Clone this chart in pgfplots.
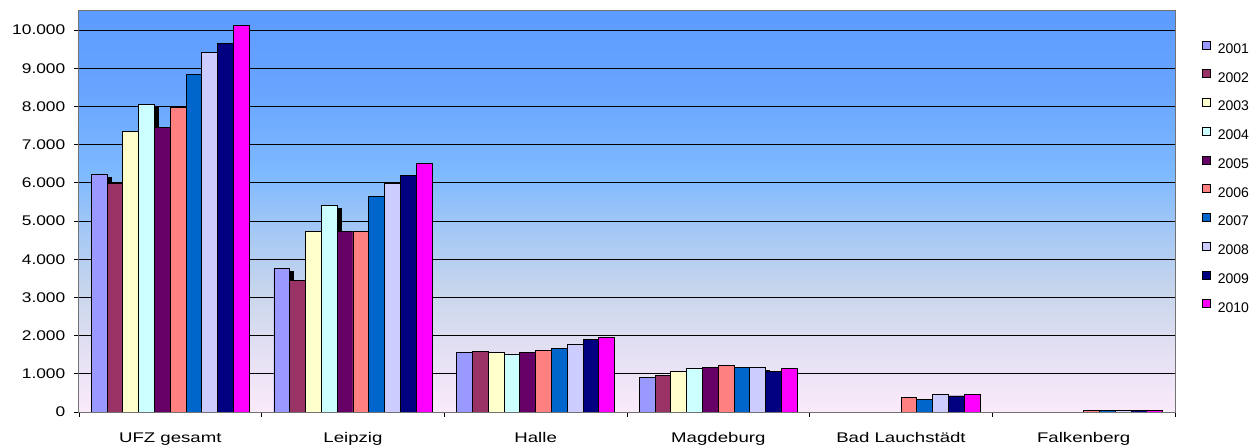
\documentclass[border=0pt]{standalone}
\usepackage{fontspec}
\setmainfont{Liberation Sans}
\newfontfamily\tickfont{Liberation Sans}[FakeStretch=1.24]
\newfontfamily\catfont{Liberation Sans}[FakeStretch=1.33]
\usepackage{pgfplots}
\usepackage{pgfplotstable}
\pgfplotsset{compat=1.18}
\usetikzlibrary{shadows}

\definecolor{s01}{HTML}{9999FF}
\definecolor{s02}{HTML}{993366}
\definecolor{s03}{HTML}{FFFFCC}
\definecolor{s04}{HTML}{CCFFFF}
\definecolor{s05}{HTML}{660066}
\definecolor{s06}{HTML}{FF8080}
\definecolor{s07}{HTML}{0066CC}
\definecolor{s08}{HTML}{CCCCFF}
\definecolor{s09}{HTML}{000080}
\definecolor{s10}{HTML}{FF00FF}

\definecolor{bg0}{RGB}{250,234,250}
\definecolor{bg1}{RGB}{228,224,243}
\definecolor{bg2}{RGB}{200,214,236}
\definecolor{bg3}{RGB}{165,200,245}
\definecolor{bg4}{RGB}{125,185,255}
\definecolor{bg5}{RGB}{105,165,255}
\definecolor{bg6}{RGB}{92,155,255}
\pgfdeclareverticalshading{bgshade}{100bp}{%
 color(0bp)=(bg0); color(25bp)=(bg0); color(32.5bp)=(bg1); color(40bp)=(bg2);
 color(47.5bp)=(bg3); color(55bp)=(bg4); color(65bp)=(bg5); color(75bp)=(bg6); color(100bp)=(bg6)}

\pgfplotstableread{
x y2001 y2002 y2003 y2004 y2005 y2006 y2007 y2008 y2009 y2010
0 6210 5990 7340 8050 7460 7980 8850 9420 9660 10110
1 3770 3440 4720 5410 4730 4730 5640 5980 6200 6500
2 1550 1590 1550 1510 1560 1620 1660 1780 1890 1960
3 900 950 1050 1130 1175 1220 1175 1165 1060 1130
4 0 0 0 0 0 370 340 460 420 460
5 0 0 0 0 0 40 40 40 40 40
}\data

\tikzset{shad/.style={preaction={drop shadow={shadow xshift=4bp, shadow yshift=-3bp, fill=black, opacity=1}}}}

\begin{document}
\begin{tikzpicture}
\useasboundingbox (-79bp,-34bp) rectangle (1173bp,412bp);
\begin{axis}[
  at={(0,0)}, anchor=south west,
  scale only axis, width=1096bp, height=401bp,
  xmin=-0.5, xmax=5.5, ymin=0, ymax=10500,
  ybar=0pt, bar width=15.8bp,
  axis background/.style={shading=bgshade},
  axis line style={black!55, line width=1bp},
  xtick={0,...,5},
  xticklabels={UFZ gesamt, Leipzig, Halle, Magdeburg, Bad Lauchstädt, Falkenberg},
  minor xtick={-0.5,0.5,...,5.5},
  ytick={0,1000,...,10000},
  tick pos=left, tick align=outside,
  major tick length=5bp, minor tick length=5bp,
  x tick style={draw=none},
  minor x tick style={draw=black, line width=0.8bp},
  y tick style={draw=black, line width=0.8bp},
  ymajorgrids, grid style={black, line width=0.8bp},
  scaled y ticks=false,
  /pgf/number format/.cd, 1000 sep={.}, assume math mode=true,
  /pgfplots/.cd,
  yticklabel style={font=\tickfont\fontsize{14bp}{16bp}\selectfont, inner sep=0pt, anchor=east, xshift=-8.5bp},
  xticklabel style={font=\catfont\fontsize{14bp}{16bp}\selectfont, inner sep=0pt, anchor=base, yshift=-25bp},
  legend style={at={(1.0246,0.926)}, anchor=north west, draw=none, fill=none,
    inner sep=0pt, outer sep=0pt, row sep=16.1bp,
    font=\fontsize{14bp}{15bp}\selectfont,
    nodes={inner sep=0pt, text height=9.5bp, text depth=0bp},
    /tikz/every odd column/.append style={column sep=7bp}},
  legend cell align=left,
  legend image code/.code={\draw[#1, draw=black, line width=0.8bp] (0bp,-0.5bp) rectangle (8bp,7.5bp);},
  every axis plot/.append style={draw=black, line width=0.9bp},
]
\addlegendimage{fill=s01}
\addlegendimage{fill=s02}
\addlegendimage{fill=s03}
\addlegendimage{fill=s04}
\addlegendimage{fill=s05}
\addlegendimage{fill=s06}
\addlegendimage{fill=s07}
\addlegendimage{fill=s08}
\addlegendimage{fill=s09}
\addlegendimage{fill=s10}
\addplot[forget plot, fill=s01, shad, bar shift=-71.1bp] table[x=x, y=y2001] {\data};
\addplot[forget plot, fill=s02, shad, bar shift=-55.3bp] table[x=x, y=y2002] {\data};
\addplot[forget plot, fill=s03, shad, bar shift=-39.5bp] table[x=x, y=y2003] {\data};
\addplot[forget plot, fill=s04, shad, bar shift=-23.7bp] table[x=x, y=y2004] {\data};
\addplot[forget plot, fill=s05, shad, bar shift=-7.9bp] table[x=x, y=y2005] {\data};
\addplot[forget plot, fill=s06, shad, bar shift=7.9bp] table[x=x, y=y2006] {\data};
\addplot[forget plot, fill=s07, shad, bar shift=23.7bp] table[x=x, y=y2007] {\data};
\addplot[forget plot, fill=s08, shad, bar shift=39.5bp] table[x=x, y=y2008] {\data};
\addplot[forget plot, fill=s09, shad, bar shift=55.3bp] table[x=x, y=y2009] {\data};
\addplot[forget plot, fill=s10, bar shift=71.1bp] table[x=x, y=y2010] {\data};
\legend{2001,2002,2003,2004,2005,2006,2007,2008,2009,2010}
\end{axis}
\end{tikzpicture}
\end{document}
